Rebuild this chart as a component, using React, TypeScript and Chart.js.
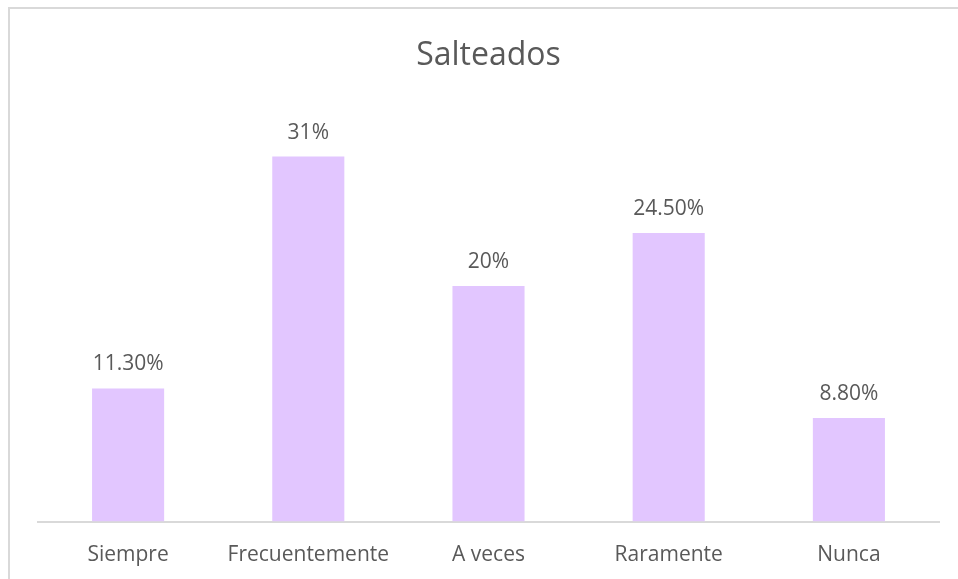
import React, { useEffect, useRef } from "react";
import { Chart, registerables } from "chart.js";

Chart.register(...registerables);

const titleText = "Salteados";
const categories = ["Siempre", "Frecuentemente", "A veces", "Raramente", "Nunca"];
const values = [11.3, 31, 20, 24.5, 8.8];
const valueLabels = ["11.30%", "31%", "20%", "24.50%", "8.80%"];
const yMax = 35;

const FONT = "'Open Sans', 'Liberation Sans', sans-serif";
const TEXT = "#595959";
const BAR = "rgb(226,198,255)";
const LINE = "#D9D9D9";

const framePlugin = {
  id: "frame",
  beforeDraw(chart: any) {
    const { ctx, width, height } = chart;
    ctx.save();
    ctx.fillStyle = "#ffffff";
    ctx.fillRect(0, 0, width, height);
    ctx.strokeStyle = LINE;
    ctx.lineWidth = 2;
    ctx.strokeRect(9, 8, width + 20, height + 20);
    ctx.restore();
  },
};

const labelPlugin = {
  id: "valueLabels",
  afterDatasetsDraw(chart: any) {
    const { ctx } = chart;
    const meta = chart.getDatasetMeta(0);
    ctx.save();
    ctx.font = `21px ${FONT}`;
    ctx.fillStyle = TEXT;
    ctx.textAlign = "center";
    ctx.textBaseline = "alphabetic";
    meta.data.forEach((bar: any, i: number) => {
      ctx.fillText(valueLabels[i], bar.x, bar.y - 18);
    });
    ctx.restore();
  },
};

export default function App() {
  const ref = useRef<HTMLCanvasElement>(null);

  useEffect(() => {
    if (!ref.current) return;
    const chart = new Chart(ref.current, {
      type: "bar",
      data: {
        labels: categories,
        datasets: [
          {
            data: values,
            backgroundColor: BAR,
            borderWidth: 0,
            barPercentage: 0.4,
            categoryPercentage: 1,
          },
        ],
      },
      options: {
        responsive: false,
        animation: false,
        layout: { padding: { left: 38, right: 19, top: 0, bottom: 0 } },
        plugins: {
          legend: { display: false },
          tooltip: { enabled: false },
          title: {
            display: true,
            text: titleText,
            color: TEXT,
            font: { family: FONT, size: 32, weight: "normal" },
            padding: { top: 37, bottom: 34.1 },
          },
        },
        scales: {
          x: {
            grid: { display: false, drawTicks: false },
            border: { display: true, color: LINE, width: 2 },
            ticks: {
              color: TEXT,
              font: { family: FONT, size: 21 },
              padding: 20.5,
              maxRotation: 0,
            },
            afterFit: (scale: any) => {
              scale.height = 57.5;
            },
          },
          y: {
            display: false,
            min: 0,
            max: yMax,
          },
        },
      },
      plugins: [framePlugin, labelPlugin],
    });
    return () => chart.destroy();
  }, []);

  return (
    <div style={{ position: "absolute", left: 0, top: 0, width: 958, height: 579 }}>
      <canvas ref={ref} width={958} height={579} style={{ width: 958, height: 579, display: "block" }} />
    </div>
  );
}
